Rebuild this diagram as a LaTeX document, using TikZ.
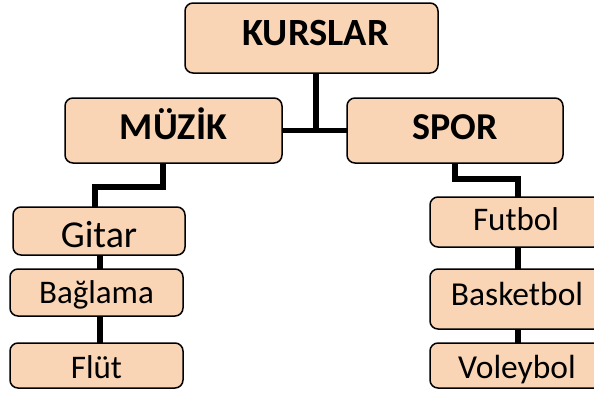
\documentclass[tikz,border=0pt]{standalone}
\usepackage{fontspec}
\setmainfont{Carlito}
\definecolor{peach}{HTML}{FAD5B5}
\begin{document}
\begin{tikzpicture}[x=1pt,y=-1pt,
  box/.style={draw=black,line width=1.5pt,fill=peach,rounded corners=8pt,
    inner sep=0pt,outer sep=0pt,align=center},
  head/.style={box,font=\bfseries\fontsize{38}{42}\selectfont},
  item/.style={box,font=\fontsize{33.5}{37}\selectfont},
  link/.style={line width=5.5pt,line join=miter}]
\useasboundingbox (0,0) rectangle (594,394);
\clip (0,0) rectangle (594,394);
% boxes
\node[head,font=\bfseries\fontsize{38.5}{42}\selectfont,minimum width=253pt,minimum height=70pt,text height=14pt,text depth=0pt] (kurs) at (311.5,38) {\hspace*{8pt}KURSLAR};
\node[head,minimum width=217pt,minimum height=65pt,text height=17pt,text depth=0pt] (muzik) at (173.5,130.5) {MÜZİK};
\node[head,minimum width=216pt,minimum height=65pt,text height=17pt,text depth=0pt] (spor) at (455,130.5) {SPOR};
\node[item,font=\fontsize{38}{42}\selectfont,minimum width=172pt,minimum height=48pt,text height=32pt,text depth=0pt] (gitar) at (99,231) {Gitar};
\node[item,font=\fontsize{33}{37}\selectfont,minimum width=173pt,minimum height=47pt,text height=21pt,text depth=0pt] (baglama) at (96.5,292.5) {Bağlama};
\node[item,font=\fontsize{33}{37}\selectfont,minimum width=173pt,minimum height=45pt,text height=25pt,text depth=0pt] (flut) at (96.5,365.5) {Flüt};
\node[item,font=\fontsize{33}{37}\selectfont,minimum width=172pt,minimum height=50pt,text height=17pt,text depth=0pt] (futbol) at (516,222) {Futbol};
\node[item,minimum width=174pt,minimum height=60pt,text height=12pt,text depth=0pt] (basket) at (517,299) {Basketbol};
\node[item,minimum width=174pt,minimum height=45pt,text height=25pt,text depth=0pt] (voley) at (517,365.5) {Voleybol};
% connectors
\coordinate (j) at (316,131);
\draw[link] (kurs.south -| j) -- (j);
\draw[link] (muzik.east) -- (spor.west);
\draw[link] ([xshift=-10.5pt]muzik.south) -- ++(0,24) -| ([xshift=-4pt]gitar.north);
\draw[link] (spor.south) -- ++(0,16) -| ([xshift=2pt]futbol.north);
\draw[link] ([xshift=1pt]gitar.south) -- ([xshift=3.5pt]baglama.north);
\draw[link] ([xshift=3.5pt]baglama.south) -- ([xshift=3.5pt]flut.north);
\draw[link] ([xshift=2pt]futbol.south) -- ([xshift=1pt]basket.north);
\draw[link] ([xshift=1pt]basket.south) -- ([xshift=1pt]voley.north);
\end{tikzpicture}
\end{document}
